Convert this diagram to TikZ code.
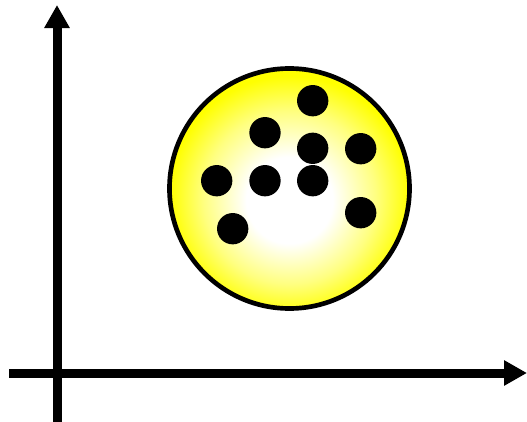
\documentclass[tikz,border=0pt]{standalone}
\usepackage{tikz}
\usetikzlibrary{arrows.meta,positioning}
\pgfdeclareradialshading{ballshade}{\pgfpoint{0bp}{-3bp}}{%
  color(0bp)=(white); color(9bp)=(white); color(18bp)=(yellow!50!white); color(25bp)=(yellow); color(50bp)=(yellow)}
\tikzset{
  axis/.style={line width=0.27cm, -{Triangle[length=0.69cm,width=0.72cm]}},
  cluster/.style={circle, draw, line width=0.14cm, minimum size=7.2cm, inner sep=0pt, shading=ballshade},
  dot/.style={circle, fill=black, minimum size=0.94cm, inner sep=0pt}
}

\begin{document}
\begin{tikzpicture}[x=0.03cm, y=-0.03cm]
  \useasboundingbox (0,0) rectangle (527,422);
  % axes
  \coordinate (ybot) at (57,422);
  \coordinate (ytop) at (57,5);
  \coordinate (xleft) at (9,373);
  \coordinate (xright) at (527,373);
  \draw[axis] (ybot) -- (ytop);
  \draw[axis] (xleft) -- (xright);
  % cluster of points
  \node[cluster] (ball) at (289.5,188.5) {};
  \foreach \n/\px/\py in {1/312.7/100.7, 2/265/132.7, 3/312.7/148.3,
      4/360.7/148.7, 5/216.7/180.7, 6/265/180.7, 7/312.7/180.7,
      8/360.7/212.7, 9/232.7/228.7}
    \node[dot] (d\n) at (\px,\py) {};
\end{tikzpicture}
\end{document}
